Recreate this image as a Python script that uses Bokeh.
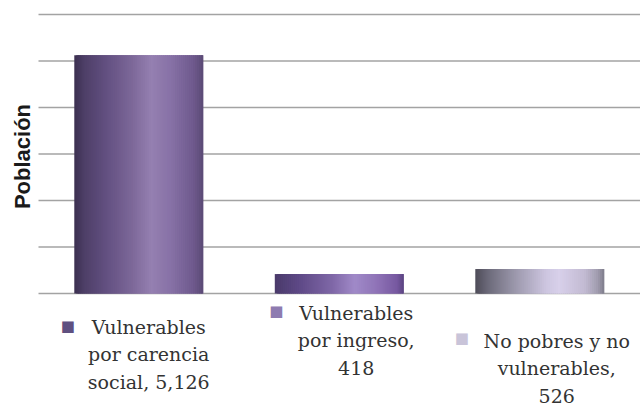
import math
import textwrap
from bokeh.plotting import figure
from bokeh.models import Range1d, ColumnDataSource
from bokeh.core.properties import value
from bokeh.embed import file_html
from bokeh.resources import INLINE

# ---------------- data ----------------
categories = ["Vulnerables por carencia social", "Vulnerables por ingreso", "No pobres y no vulnerables"]
values = [5126, 418, 526]
grid_ticks = [0, 1000, 2000, 3000, 4000, 5000, 6000]
y_title = "Población"

# ---------------- styles / layout ----------------
W, H = 640, 406
ZERO_PY, TOP_PY = 293, 14          # pixel rows of 0 and of the top grid value
LEFT_PX, PX_PER_CAT = 38, 200.5
ppu = (ZERO_PY - TOP_PY) / grid_ticks[-1]
X0 = -LEFT_PX / PX_PER_CAT
X1 = X0 + W / PX_PER_CAT
Y1 = grid_ticks[-1] + TOP_PY / ppu
Y0 = -(H - ZERO_PY) / ppu

bar_width = 0.643
gradients = [
    [(0.0, "#3b3050"), (0.08, "#4e3f68"), (0.25, "#635081"), (0.45, "#7d6899"),
     (0.6, "#9580b1"), (0.75, "#8771a6"), (0.92, "#6f5a8e"), (1.0, "#5b4a76")],
    [(0.0, "#4a3a6a"), (0.2, "#5f4a88"), (0.45, "#8068a8"), (0.62, "#a08ac8"),
     (0.8, "#8e72b6"), (0.95, "#7658a0"), (1.0, "#5a4480")],
    [(0.0, "#4e4c58"), (0.1, "#6c6a7a"), (0.3, "#9a96aa"), (0.55, "#cdc6e0"),
     (0.65, "#d8d0ea"), (0.85, "#c2bad2"), (0.95, "#a09cae"), (1.0, "#7e7c8a")],
]
key_colors = ["#5f5080", "#8e7bb0", "#c9c4d9"]
text_dx = [10, 17, 17]
first_dy = [33, 19, 47]
line_step = 27.5
key_dx = [-71, -63, -78]
key_dy = [32, 17, 44]


def hex2rgb(h):
    return tuple(int(h[i:i + 2], 16) for i in (1, 3, 5))


def grad_color(stops, t):
    for (t0, c0), (t1, c1) in zip(stops, stops[1:]):
        if t0 <= t <= t1:
            f = (t - t0) / (t1 - t0) if t1 > t0 else 0
            a, b = hex2rgb(c0), hex2rgb(c1)
            return "#%02x%02x%02x" % tuple(round(a[k] + (b[k] - a[k]) * f) for k in range(3))
    return stops[-1][1]


p = figure(width=W, height=H, output_backend="svg", toolbar_location=None,
           x_range=Range1d(X0, X1), y_range=Range1d(Y0, Y1),
           min_border=0, min_border_left=0, min_border_right=0,
           min_border_top=0, min_border_bottom=0)
p.axis.visible = False
p.grid.visible = False
p.outline_line_color = None
p.background_fill_color = "white"
p.border_fill_color = "white"

centers = [i + 0.5 for i in range(len(categories))]

# grid lines
p.segment(x0=[0] * len(grid_ticks), x1=[X1] * len(grid_ticks),
          y0=grid_ticks, y1=grid_ticks, line_color="#a3a3a3", line_width=1.6)

# gradient bars built from thin overlapping strips
N = 64
L, R, T, C = [], [], [], []
for c, v, stops in zip(centers, values, gradients):
    left0 = c - bar_width / 2
    right0 = c + bar_width / 2
    step = bar_width / N
    for k in range(N):
        L.append(left0 + k * step)
        R.append(min(left0 + (k + 2.5) * step, right0))
        T.append(v)
        C.append(grad_color(stops, (k + 0.5) / N))
p.quad(left=L, right=R, top=T, bottom=[0] * len(T), fill_color=C, line_color=None)

# data labels (legend-key style)
tx, ty, tt, txo, tyo = [], [], [], [], []
for i, (cat, v) in enumerate(zip(categories, values)):
    lines = textwrap.wrap(f"{cat}, {v:,}", width=14)
    for j, ln in enumerate(lines):
        tx.append(centers[i]); ty.append(0); tt.append(ln)
        txo.append(text_dx[i]); tyo.append(first_dy[i] + j * line_step)
src = ColumnDataSource(dict(x=tx, y=ty, text=tt, xo=txo, yo=tyo))
p.text(x="x", y="y", text="text", x_offset="xo", y_offset="yo", source=src,
       text_align="center", text_baseline="middle",
       text_font=value("DejaVu Serif"), text_font_size="19px", text_color="#333333")

ksrc = ColumnDataSource(dict(x=centers, y=[0] * 3, text=["■"] * 3, xo=key_dx, yo=key_dy, c=key_colors))
p.text(x="x", y="y", text="text", x_offset="xo", y_offset="yo", source=ksrc,
       text_align="center", text_baseline="middle", text_color="c",
       text_font=value("DejaVu Sans"), text_font_size="15px")

# y title
p.text(x=[X0 + 22 / PX_PER_CAT], y=[Y1 - 156 / ppu], text=[y_title], angle=math.pi / 2,
       text_align="center", text_baseline="middle", text_font=value("Liberation Sans"),
       text_font_style="bold", text_font_size="22px", text_color="#1a1a1a")

open("out.html", "w").write(file_html(p, INLINE))
